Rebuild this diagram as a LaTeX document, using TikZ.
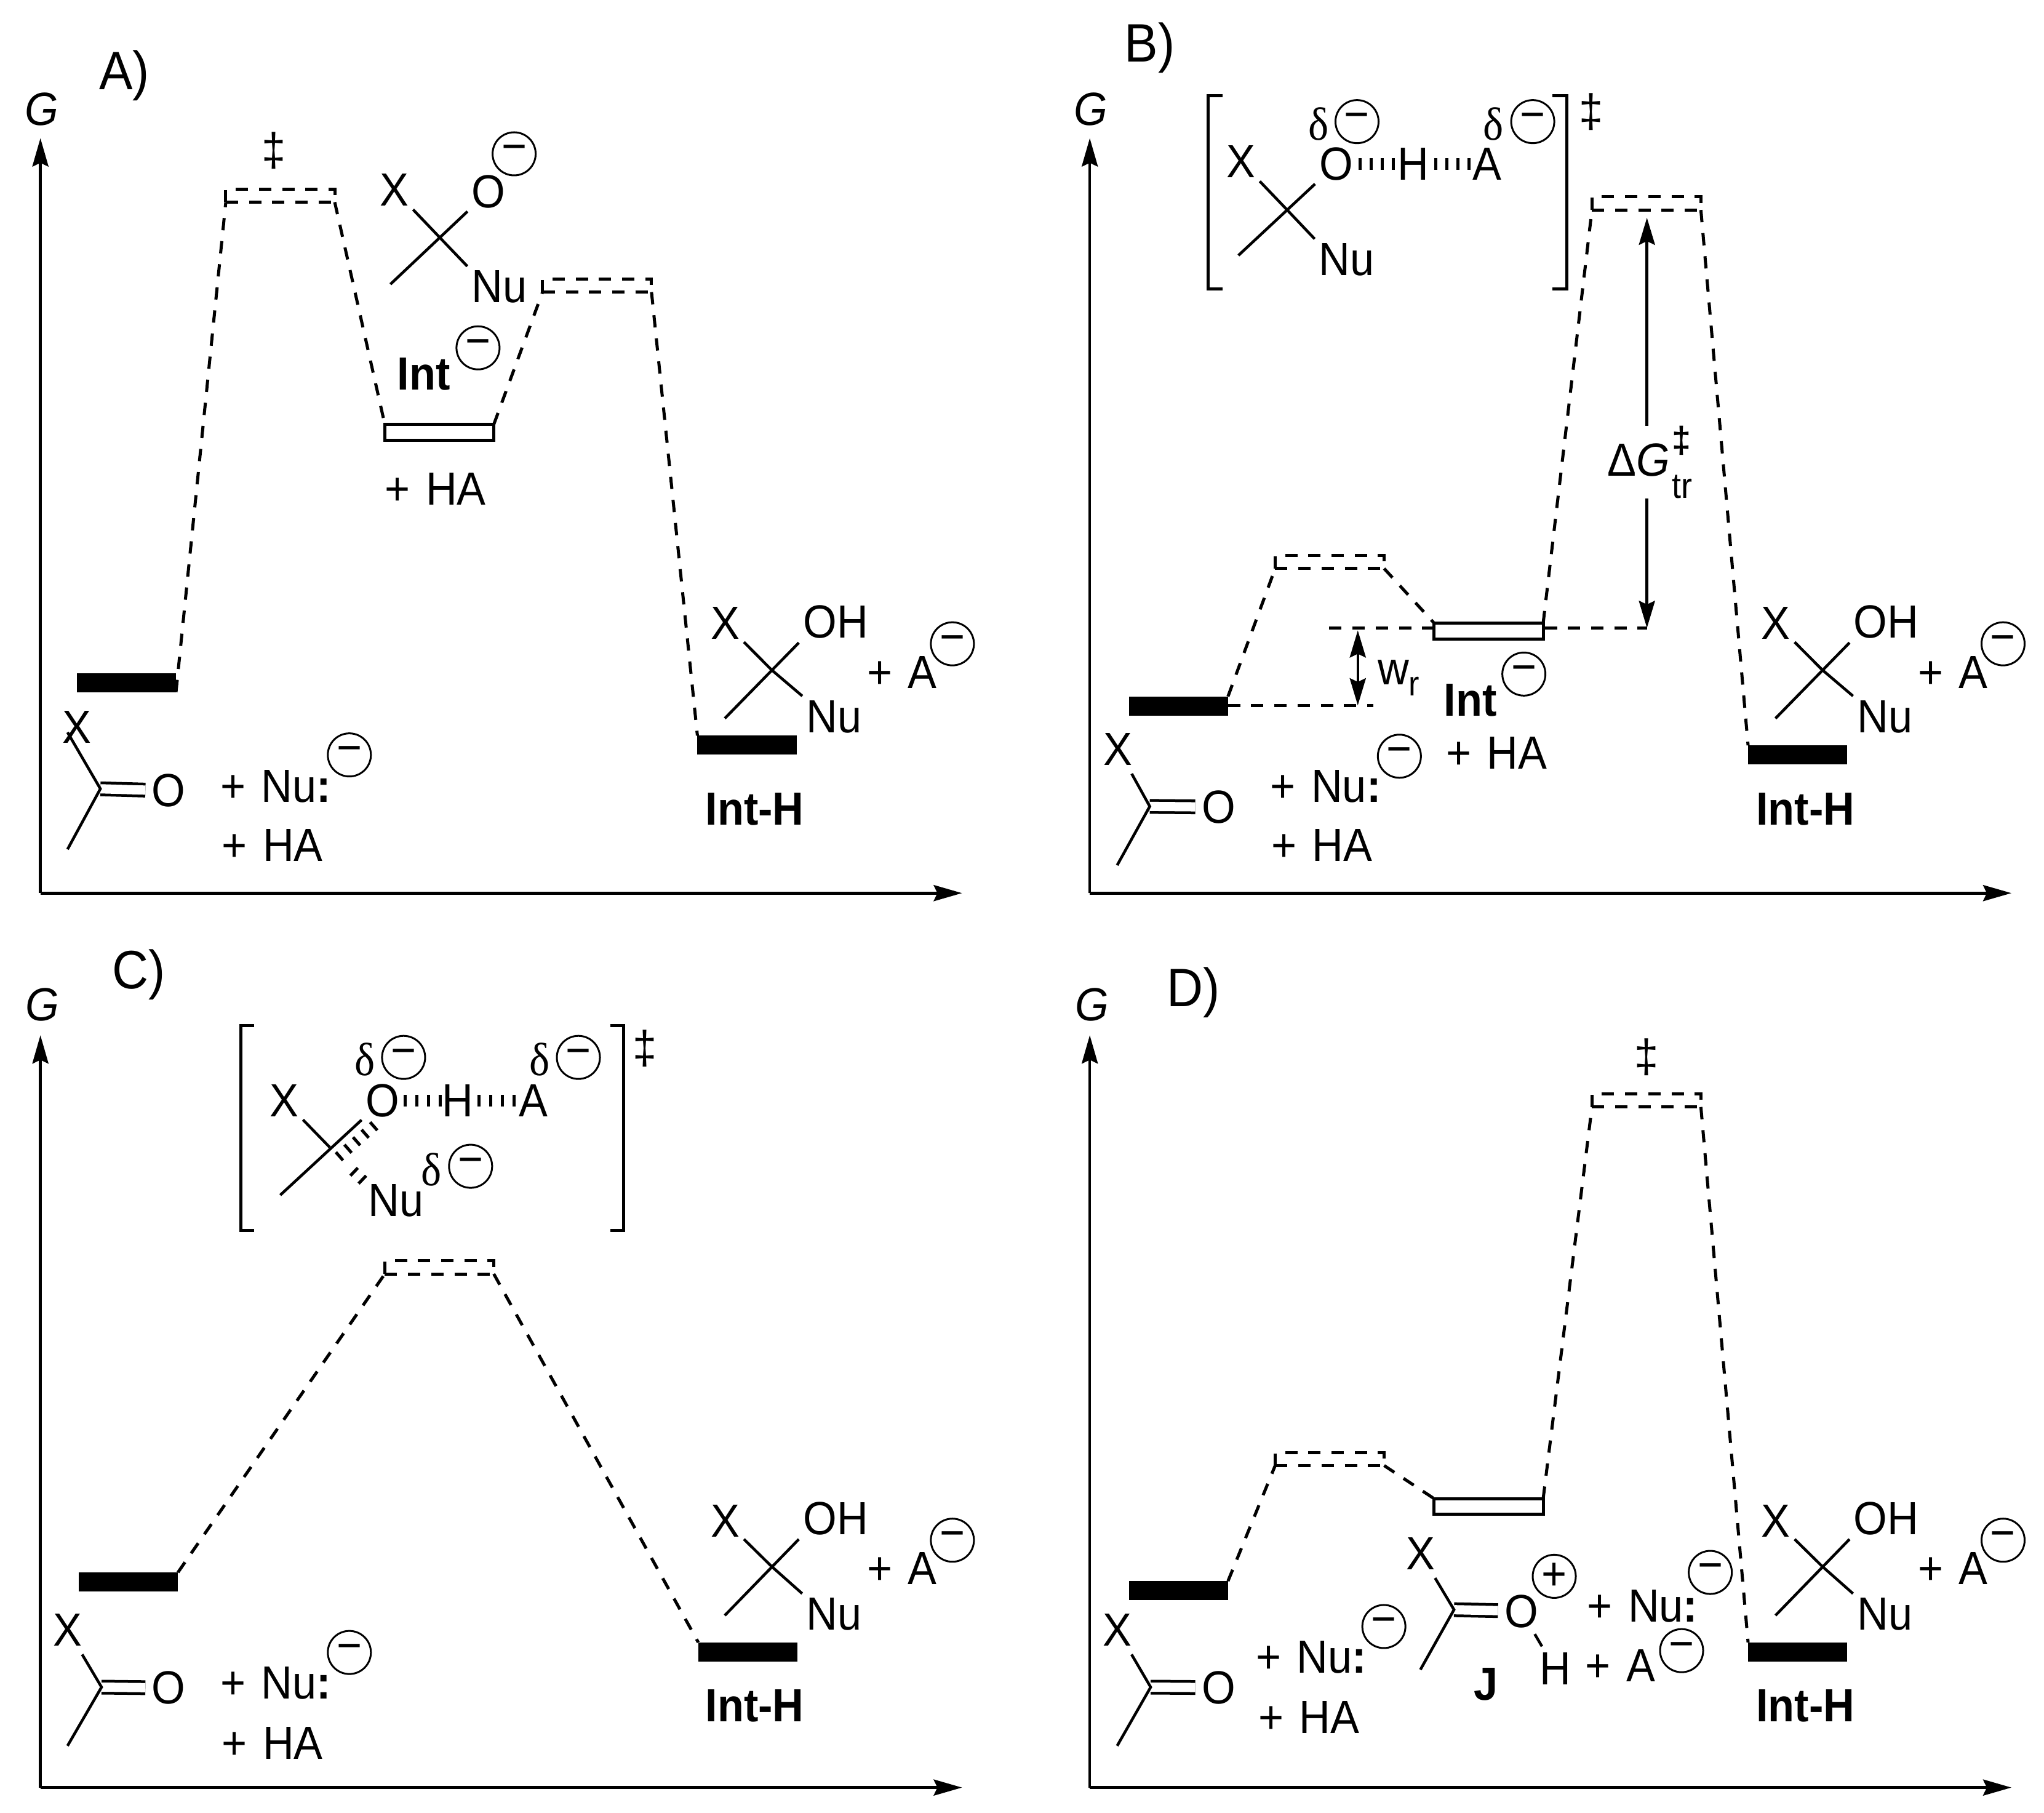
\documentclass[tikz,border=0pt]{standalone}
\usepackage{fontspec}
\usetikzlibrary{arrows.meta}
\setmainfont{Liberation Sans}[FakeStretch=0.93, WordSpace=1.3]
\newfontfamily\deltafont{Liberation Serif}[FakeStretch=0.93]
\tikzset{
    every node/.append style={font=\fontsize{21.5}{24}\selectfont},
    lbl/.style={inner sep=0, outer sep=0},
    atom/.style={inner sep=2pt, outer sep=0},
    panel/.style={inner sep=0, outer sep=0, font=\fontsize{25}{28}\selectfont},
    strong/.style={inner sep=0, outer sep=0, font=\fontsize{21.5}{24}\selectfont\bfseries},
    charge/.style={circle, draw, line width=0.03cm, minimum size=0.7cm, inner sep=0, outer sep=0},
    levelfull/.style={rectangle, fill=black, minimum width=1.61cm, minimum height=0.31cm, inner sep=0, outer sep=0},
    levelopen/.style={rectangle, draw, line width=0.05cm, minimum width=1.77cm, minimum height=0.255cm, inner sep=0, outer sep=0},
    leveldash/.style={rectangle, draw, line width=0.05cm, dash pattern=on 0.2cm off 0.177cm, minimum width=1.77cm, minimum height=0.214cm, inner sep=0, outer sep=0},
    axis/.style={line width=0.045cm, -{Stealth[length=0.46cm, width=0.26cm, inset=0.06cm]}},
    gap/.style={line width=0.045cm, {Stealth[length=0.44cm, width=0.26cm, inset=0.06cm]}-{Stealth[length=0.44cm, width=0.26cm, inset=0.06cm]}},
    conn/.style={line width=0.05cm, dash pattern=on 0.2cm off 0.177cm},
    bond/.style={line width=0.045cm},
    dblbond/.style={line width=0.045cm, double, double distance=0.15cm},
    hashbond/.style={line width=0.19cm, shorten <=-2pt, shorten >=-2pt, dash pattern=on 0.05cm off 0.13cm, dash phase=0.09cm},
    wedgebond/.style={line width=0.176cm, dash pattern=on 0.05cm off 0.135cm},
    bracket/.style={line width=0.05cm}
}

\begin{document}
\begin{tikzpicture}[x=0.021186cm, y=-0.021186cm]
    \useasboundingbox (0, 0) rectangle (1568, 1390.5);

    % A
    \coordinate (aO0) at (31, 685);
    \coordinate (aYe) at (31, 106);
    \coordinate (aXe) at (738, 685);
    \draw[axis] (aO0) -- (aYe);
    \draw[axis] (aO0) -- (aXe);
    \node[lbl] (aG) at (32, 84) {\textit{G}};
    \node[panel] (aTag) at (95.5, 58) {A)};

    \node[levelfull] (aR) at (97, 523.5) {};
    \node[leveldash] (aTa) at (215, 150) {};
    \node[levelopen] (aI) at (337, 331.6) {};
    \node[leveldash] (aTb) at (458, 219) {};
    \node[levelfull] (aP) at (573, 571.5) {};
    \draw[conn] (aR.south east) -- (aTa.south west);
    \draw[conn] (aTa.south east) -- (aI.north west);
    \draw[conn] (aI.north east) -- (aTb.south west);
    \draw[conn] (aTb.south east) -- (aP.north west);
    \node[lbl] (aDag) at (210, 115.6) {‡};

    \coordinate (aC) at (77, 605);
    \coordinate (aXb) at (51.8, 561.7);
    \coordinate (aLow) at (51.8, 651.4);
    \node[lbl] (aX) at (59, 557.8) {X};
    \node[atom, inner sep=3pt] (aO) at (129.4, 606.5) {O};
    \draw[dblbond] (aC) -- (aO);
    \draw[bond] (aXb) -- (aC) -- (aLow);
    \node[lbl] (aNu) at (211.5, 603) {+ Nu\textbf{:}};
    \node[charge] (aNuC) at (268, 579) {−};
    \node[lbl] (aHa) at (209, 648.4) {+ HA};

    \coordinate (aIc) at (337, 181.8);
    \coordinate (aIl) at (299.5, 218);
    \node[atom] (aIx) at (302.5, 145.7) {X};
    \node[atom] (aIo) at (374.8, 146.9) {O};
    \node[atom] (aIn) at (383, 220) {Nu};
    \node[charge] (aIoC) at (394.4, 118) {−};
    \draw[bond] (aIl) -- (aIo);
    \draw[bond] (aIc) -- (aIx);
    \draw[bond] (aIc) -- (aIn.north west);
    \node[strong] (aInt) at (325, 287) {Int};
    \node[charge] (aIntC) at (366.7, 266.8) {−};
    \node[lbl] (aIha) at (334, 375) {+ HA};

    \coordinate (aPc) at (591.8, 513.7);
    \coordinate (aPl) at (556, 551);
    \node[atom] (aPx) at (556.3, 478) {X};
    \node[atom] (aPo) at (641, 477) {OH};
    \node[atom] (aPn) at (640, 549.6) {Nu};
    \draw[bond] (aPl) -- (aPo.south west);
    \draw[bond] (aPc) -- (aPx);
    \draw[bond] (aPc) -- (aPn.north west);
    \node[lbl] (aPa) at (692, 515.7) {+ A};
    \node[charge] (aPaC) at (730.6, 493.8) {−};
    \node[strong] (aPh) at (579, 620.5) {Int-H};

    % B
    \coordinate (bO0) at (836, 685);
    \coordinate (bYe) at (836, 106);
    \coordinate (bXe) at (1543, 685);
    \draw[axis] (bO0) -- (bYe);
    \draw[axis] (bO0) -- (bXe);
    \node[lbl] (bG) at (837, 84) {\textit{G}};
    \node[panel] (bTag) at (882, 36.6) {B)};

    \node[levelfull] (bR) at (904, 541.5) {};
    \node[leveldash] (bTa) at (1020, 431) {};
    \node[levelopen] (bI) at (1142, 484) {};
    \node[leveldash] (bTb) at (1263, 156) {};
    \node[levelfull] (bP) at (1379, 579) {};
    \draw[conn] (bR.north east) -- (bTa.south west);
    \draw[conn] (bTa.south east) -- (bI.north west);
    \draw[conn] (bI.north east) -- (bTb.south west);
    \draw[conn] (bTb.south east) -- (bP.north west);

    \coordinate (bWa) at (1053.6, 541);
    \coordinate (bWb) at (1019.7, 481.6);
    \coordinate (bWc) at (1041.6, 483.5);
    \coordinate (bWd) at (1041.6, 541);
    \coordinate (bWe) at (1099, 481.6);
    \coordinate (bWf) at (1185, 481.6);
    \coordinate (bWg) at (942, 541);
    \coordinate (bDa) at (1263.4, 167);
    \coordinate (bDb) at (1263.4, 481.6);
    \draw[conn] (bWg) -- (bWa);
    \draw[conn] (bWb) -- (bWe);
    \draw[conn] (bWf) -- (bDb);
    \draw[gap] (bWc) -- (bWd);
    \draw[gap] (bDa) -- (bDb);
    \node[lbl] (bWr) at (1073, 520) {w\raisebox{-5pt}{\fontsize{16}{16}\selectfont r}};
    \node[lbl, fill=white, anchor=base west] (bDg) at (1233, 365) {Δ\textit{G}\hspace{1pt}\rlap{\raisebox{10.8pt}{\fontsize{17}{17}\selectfont\bfseries ‡}}\raisebox{-10.2pt}{\fontsize{16.5}{16.5}\selectfont tr}};

    \coordinate (bBa) at (938, 73.6);
    \coordinate (bBb) at (927, 73.6);
    \coordinate (bBc) at (927, 221.5);
    \coordinate (bBd) at (938, 221.5);
    \coordinate (bBe) at (1191, 73.6);
    \coordinate (bBf) at (1202, 73.6);
    \coordinate (bBg) at (1202, 221.5);
    \coordinate (bBh) at (1191, 221.5);
    \draw[bracket] (bBa) -- (bBb) -- (bBc) -- (bBd);
    \draw[bracket] (bBe) -- (bBf) -- (bBg) -- (bBh);
    \node[lbl] (bDag) at (1220.6, 86) {‡};

    \coordinate (bTc) at (987, 160.6);
    \coordinate (bTl) at (950, 195.9);
    \node[atom] (bTx) at (952, 124) {X};
    \node[atom] (bTo) at (1025, 126) {O};
    \node[atom] (bTh) at (1084, 126) {H};
    \node[atom] (bTa2) at (1141, 126) {A};
    \node[atom] (bTn) at (1033, 199) {Nu};
    \draw[bond] (bTl) -- (bTo);
    \draw[bond] (bTc) -- (bTx);
    \draw[bond] (bTc) -- (bTn.north west);
    \draw[hashbond] (bTo) -- (bTh);
    \draw[hashbond] (bTh) -- (bTa2);
    \node[lbl] (bDo) at (1011.6, 95) {\deltafont δ};
    \node[charge] (bDoC) at (1041, 93.3) {−};
    \node[lbl] (bDa2) at (1145.6, 95) {\deltafont δ};
    \node[charge] (bDaC) at (1175.8, 93.3) {−};

    \coordinate (bC) at (882, 618.5);
    \coordinate (bLow) at (857, 663.6);
    \node[atom, inner sep=4pt] (bX) at (857.7, 574.5) {X};
    \node[atom, inner sep=3pt] (bO) at (934.8, 619) {O};
    \draw[dblbond] (bC) -- (bO);
    \draw[bond] (bX) -- (bC) -- (bLow);
    \node[lbl] (bNu) at (1017, 603) {+ Nu\textbf{:}};
    \node[charge] (bNuC) at (1073.5, 580) {−};
    \node[lbl] (bHa) at (1014, 648.5) {+ HA};
    \node[strong] (bInt) at (1128, 537) {Int};
    \node[charge] (bIntC) at (1169, 517) {−};
    \node[lbl] (bIha) at (1148, 577.5) {+ HA};

    \coordinate (bPc) at (1397.8, 513.7);
    \coordinate (bPl) at (1362, 551);
    \node[atom] (bPx) at (1362.3, 478) {X};
    \node[atom] (bPo) at (1447, 477) {OH};
    \node[atom] (bPn) at (1446, 549.6) {Nu};
    \draw[bond] (bPl) -- (bPo.south west);
    \draw[bond] (bPc) -- (bPx);
    \draw[bond] (bPc) -- (bPn.north west);
    \node[lbl] (bPa) at (1498, 515.7) {+ A};
    \node[charge] (bPaC) at (1536.6, 493.8) {−};
    \node[strong] (bPh) at (1385, 620.5) {Int-H};

    % C
    \coordinate (cO0) at (31, 1371);
    \coordinate (cYe) at (31, 794);
    \coordinate (cXe) at (738, 1371);
    \draw[axis] (cO0) -- (cYe);
    \draw[axis] (cO0) -- (cXe);
    \node[lbl] (cG) at (32.6, 770.5) {\textit{G}};
    \node[panel] (cTag) at (106.4, 747.4) {C)};

    \node[levelfull] (cR) at (98.5, 1213.3) {};
    \node[leveldash] (cTa) at (337, 972) {};
    \node[levelfull] (cP) at (573.7, 1267) {};
    \draw[conn] (cR.north east) -- (cTa.south west);
    \draw[conn] (cTa.south east) -- (cP.north west);

    \coordinate (cBa) at (195, 786.7);
    \coordinate (cBb) at (185, 786.7);
    \coordinate (cBc) at (185, 944);
    \coordinate (cBd) at (195, 944);
    \coordinate (cBe) at (468, 786.7);
    \coordinate (cBf) at (478.4, 786.7);
    \coordinate (cBg) at (478.4, 944);
    \coordinate (cBh) at (468, 944);
    \draw[bracket] (cBa) -- (cBb) -- (cBc) -- (cBd);
    \draw[bracket] (cBe) -- (cBf) -- (cBg) -- (cBh);
    \node[lbl] (cDag) at (494.7, 804) {‡};

    \coordinate (cTc) at (253, 880);
    \coordinate (cTl) at (215, 916.6);
    \coordinate (cWa) at (259.5, 887.6);
    \coordinate (cWb) at (289, 861.8);
    \coordinate (cNa) at (270.8, 897.9);
    \coordinate (cNb) at (279.5, 906.2);
    \node[atom] (cTx) at (218, 844) {X};
    \node[atom] (cTo) at (293.6, 844) {O};
    \node[atom] (cTh) at (351.3, 844) {H};
    \node[atom] (cTa2) at (409, 844) {A};
    \node[atom] (cTn) at (303.7, 921) {Nu};
    \draw[bond] (cTl) -- (cTo);
    \draw[bond] (cTc) -- (cTx);
    \draw[wedgebond] (cWa) -- (cWb);
    \draw[wedgebond] (cNa) -- (cNb);
    \draw[hashbond, dash pattern=on 0.05cm off 0.14cm, dash phase=0.126cm] (cTo) -- (cTh);
    \draw[hashbond, dash pattern=on 0.05cm off 0.14cm, dash phase=0.126cm] (cTh) -- (cTa2);
    \node[lbl] (cDo) at (279.8, 812.6) {\deltafont δ};
    \node[charge] (cDoC) at (309.6, 811) {−};
    \node[lbl] (cDa2) at (414, 812.6) {\deltafont δ};
    \node[charge] (cDaC) at (443.7, 811) {−};
    \node[lbl] (cDn) at (331, 896.8) {\deltafont δ};
    \node[charge] (cDnC) at (361, 894.5) {−};

    \coordinate (cC) at (77.9, 1294);
    \coordinate (cLow) at (51.8, 1339);
    \node[atom, inner sep=4pt] (cX) at (51.8, 1250) {X};
    \node[atom, inner sep=3pt] (cO) at (129.4, 1294.6) {O};
    \draw[dblbond] (cC) -- (cO);
    \draw[bond] (cX) -- (cC) -- (cLow);
    \node[lbl] (cNu) at (211.5, 1291) {+ Nu\textbf{:}};
    \node[charge] (cNuC) at (268, 1267.4) {−};
    \node[lbl] (cHa) at (209, 1337) {+ HA};

    \coordinate (cPc) at (591.8, 1201.3);
    \coordinate (cPl) at (556, 1239);
    \node[atom] (cPx) at (556.3, 1166.4) {X};
    \node[atom] (cPo) at (641, 1164.6) {OH};
    \node[atom] (cPn) at (639.9, 1238) {Nu};
    \draw[bond] (cPl) -- (cPo.south west);
    \draw[bond] (cPc) -- (cPx);
    \draw[bond] (cPc) -- (cPn.north west);
    \node[lbl] (cPa) at (691.8, 1202.8) {+ A};
    \node[charge] (cPaC) at (730.6, 1181.3) {−};
    \node[strong] (cPh) at (579, 1308.2) {Int-H};

    % D
    \coordinate (dO0) at (836, 1371);
    \coordinate (dYe) at (836, 794);
    \coordinate (dXe) at (1543, 1371);
    \draw[axis] (dO0) -- (dYe);
    \draw[axis] (dO0) -- (dXe);
    \node[lbl] (dG) at (837.8, 770.5) {\textit{G}};
    \node[panel] (dTag) at (915.7, 761.4) {D)};

    \node[levelfull] (dR) at (904, 1220) {};
    \node[leveldash] (dTa) at (1020, 1119) {};
    \node[levelopen] (dI) at (1142, 1155.5) {};
    \node[leveldash] (dTb) at (1263, 844) {};
    \node[levelfull] (dP) at (1379, 1267) {};
    \draw[conn] (dR.north east) -- (dTa.south west);
    \draw[conn] (dTa.south east) -- (dI.north west);
    \draw[conn] (dI.north east) -- (dTb.south west);
    \draw[conn] (dTb.south east) -- (dP.north west);
    \node[lbl] (dDag) at (1263, 811) {‡};

    \coordinate (dC) at (882.7, 1294);
    \coordinate (dLow) at (857, 1339);
    \node[atom, inner sep=4pt] (dX) at (857, 1250) {X};
    \node[atom, inner sep=3pt] (dO) at (934.8, 1294.4) {O};
    \draw[dblbond] (dC) -- (dO);
    \draw[bond] (dX) -- (dC) -- (dLow);
    \node[lbl] (dNu) at (1006, 1271) {+ Nu\textbf{:}};
    \node[charge] (dNuC) at (1061.6, 1247.5) {−};
    \node[lbl] (dHa) at (1004, 1317) {+ HA};

    \coordinate (jC) at (1115.4, 1234.6);
    \coordinate (jLow) at (1089.6, 1280.6);
    \node[atom, inner sep=4pt] (jX) at (1089.6, 1191.4) {X};
    \node[atom, inner sep=3pt] (jO) at (1167, 1235.7) {O};
    \node[atom, inner sep=3pt] (jH) at (1193, 1280) {H};
    \draw[dblbond] (jC) -- (jO);
    \draw[bond] (jX) -- (jC) -- (jLow);
    \draw[bond] (jO) -- (jH);
    \node[charge] (jOC) at (1192.3, 1209) {+};
    \node[strong] (jTag) at (1140, 1292) {J};
    \node[lbl] (jNu) at (1260, 1232) {+ Nu\textbf{:}};
    \node[charge] (jNuC) at (1312, 1206) {−};
    \node[lbl] (jA) at (1243, 1277.6) {+ A};
    \node[charge] (jAC) at (1290, 1266) {−};

    \coordinate (dPc) at (1397.8, 1201.3);
    \coordinate (dPl) at (1362, 1239);
    \node[atom] (dPx) at (1362.3, 1166.4) {X};
    \node[atom] (dPo) at (1447, 1164.6) {OH};
    \node[atom] (dPn) at (1446, 1238) {Nu};
    \draw[bond] (dPl) -- (dPo.south west);
    \draw[bond] (dPc) -- (dPx);
    \draw[bond] (dPc) -- (dPn.north west);
    \node[lbl] (dPa) at (1498, 1202.8) {+ A};
    \node[charge] (dPaC) at (1536.6, 1181.3) {−};
    \node[strong] (dPh) at (1385, 1308.2) {Int-H};

\end{tikzpicture}
\end{document}
